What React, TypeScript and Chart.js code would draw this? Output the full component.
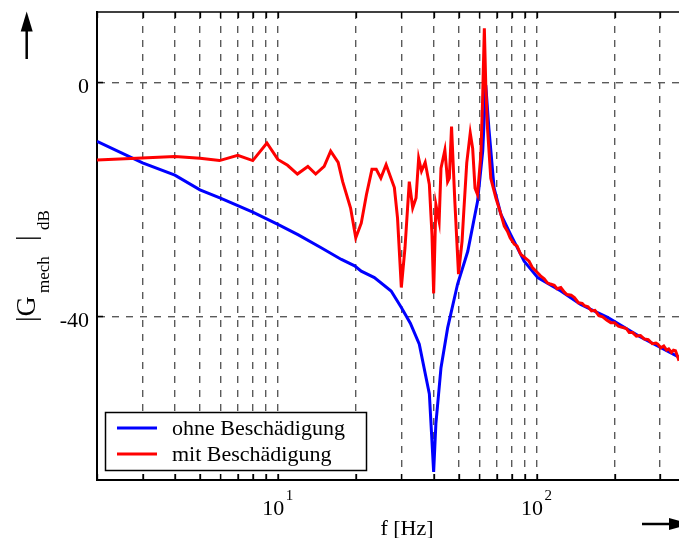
import { useEffect, useRef } from 'react';
import { Chart, registerables } from 'chart.js';

Chart.register(...registerables);

const seriesLabels = ['ohne Beschädigung', 'mit Beschädigung'];
const seriesColors = ['#0000ff', '#ff0000'];

const blueFreq = [2.0, 3.0, 4.0, 5.0, 6.0, 8.0, 10, 12, 14.7, 17.6, 19.8, 21, 23.6, 27.4, 30, 32.5, 35.2, 38.5, 40, 40.8, 42.7, 45.3, 49.5, 54.2, 59.1, 61.9, 63.6, 65.4, 68.5, 72.8, 79.3, 89.5, 101, 124, 148, 188, 253, 355];
const blueDb = [-10.1, -13.8, -15.9, -18.4, -19.8, -22.2, -24.3, -26.1, -28.3, -30.3, -31.4, -32.3, -33.4, -35.7, -38.5, -41.2, -44.8, -53.3, -66.6, -58.4, -48.8, -42.0, -34.5, -28.9, -20.4, -11.8, -0.5, -7.9, -18.1, -22.6, -26.0, -30.6, -33.4, -35.7, -38.0, -40.2, -43.6, -47.0];

const redFreq = [2.0, 2.84, 4.0, 5.0, 5.95, 7.0, 8.0, 9.07, 10, 10.9, 11.9, 13.06, 14.0, 15.1, 16.0, 17.1, 17.8, 19.1, 20.0, 21.0, 22.0, 23.1, 24.0, 25.0, 26.2, 28.2, 29.0, 30.0, 31.0, 32.2, 33.2, 34.2, 35.0, 35.9, 37.1, 38.5, 39.4, 40.0, 40.8, 42.0, 42.7, 44.2, 45.3, 46.0, 46.9, 48.3, 49.9, 51.5, 52.3, 53.7, 55.4, 56.6, 57.8, 59.1, 60.9, 61.8, 62.8, 63.6, 64.6, 66.5, 69.6, 72.8, 75, 77.2, 79, 82.0, 84, 86.7, 90, 93.5, 96.3, 100, 103.5, 107, 110, 113, 117, 120, 124, 128, 131, 136, 140, 145, 150, 153, 158, 163, 168, 174, 180, 187, 193.5, 200, 207, 214, 222, 228, 235, 243, 252, 261, 270, 280, 289, 294, 302, 310, 318, 324, 332, 338, 344, 350, 355];
const redDb = [-13.3, -13.0, -12.7, -13.0, -13.4, -12.5, -13.4, -10.4, -13.2, -14.2, -15.7, -14.4, -15.7, -14.4, -11.8, -13.7, -17.0, -21.5, -26.6, -24.1, -19.2, -14.9, -14.9, -16.4, -14.1, -18.0, -23.2, -35.1, -28.3, -17.0, -21.5, -19.8, -13.0, -15.2, -13.7, -17.5, -26.0, -36.1, -20.9, -23.8, -14.7, -11.6, -17.0, -16.4, -7.6, -20.4, -32.8, -27.2, -22.1, -13.8, -8.7, -11.3, -18.1, -19.2, -12.4, -3.3, 9.2, -0.5, -7.9, -16.4, -19.8, -22.6, -24.6, -25.5, -26.6, -27.7, -28.0, -29.4, -30.0, -30.6, -31.7, -32.4, -33.1, -33.6, -34.3, -34.5, -34.7, -35.3, -35.1, -35.9, -36.3, -36.4, -36.8, -37.7, -37.8, -38.2, -38.4, -39.1, -39.0, -39.9, -40.1, -40.7, -41.1, -41.1, -41.7, -41.9, -42.1, -42.8, -42.8, -43.4, -43.3, -43.9, -44.0, -44.7, -44.6, -44.8, -45.4, -45.1, -45.8, -45.6, -46.2, -45.8, -45.9, -46.8, -47.6];

const xGridFreqs = [2, 3, 4, 5, 6, 7, 8, 9, 10, 20, 30, 40, 50, 60, 70, 80, 90, 100, 200, 300];
const xLabelExponents = [1, 2];
const yTickValues = [-40, 0];
const yTickLabels = ['-40', '0'];
const xTitle = 'f [Hz]';
const yTitleParts = ['|G', 'mech', '|', 'dB'];

const X_MIN = 2;
const X_MAX = 355;
const Y_MIN = -68;
const Y_MAX = 12;

const SERIF = '"Liberation Serif", "Times New Roman", serif';

const decorPlugin = {
  id: 'decor',
  afterDraw(chart: any) {
    const { ctx, chartArea: a, scales } = chart;
    const xs = scales.x;
    const ys = scales.y;
    ctx.save();
    ctx.strokeStyle = '#000';
    ctx.fillStyle = '#000';

    // top border
    ctx.lineWidth = 1.5;
    ctx.beginPath();
    ctx.moveTo(a.left, a.top);
    ctx.lineTo(a.right, a.top);
    ctx.stroke();

    // inward ticks
    ctx.lineWidth = 1.3;
    ctx.beginPath();
    for (const f of xGridFreqs) {
      const px = Math.round(xs.getPixelForValue(f)) + 0.5;
      ctx.moveTo(px, a.bottom);
      ctx.lineTo(px, a.bottom - 6);
      ctx.moveTo(px, a.top);
      ctx.lineTo(px, a.top + 6);
    }
    for (const v of yTickValues) {
      const py = Math.round(ys.getPixelForValue(v)) + 0.5;
      ctx.moveTo(a.left, py);
      ctx.lineTo(a.left + 6, py);
    }
    ctx.stroke();

    // x tick labels 10^n
    ctx.textBaseline = 'alphabetic';
    ctx.textAlign = 'left';
    for (const e of xLabelExponents) {
      const px = xs.getPixelForValue(Math.pow(10, e));
      ctx.font = `22px ${SERIF}`;
      const wb = ctx.measureText('10').width;
      ctx.font = `15px ${SERIF}`;
      const ws = ctx.measureText(String(e)).width;
      const start = px - (wb + 1.5 + ws) / 2;
      ctx.font = `22px ${SERIF}`;
      ctx.fillText('10', start, a.bottom + 35);
      ctx.font = `15px ${SERIF}`;
      ctx.fillText(String(e), start + wb + 1.5, a.bottom + 20);
    }

    // y tick labels
    ctx.font = `22px ${SERIF}`;
    ctx.textAlign = 'right';
    yTickValues.forEach((v, i) => {
      const py = ys.getPixelForValue(v);
      ctx.fillText(yTickLabels[i], a.left - 8, py + 10.5);
    });

    // x title
    ctx.textAlign = 'center';
    ctx.font = `22px ${SERIF}`;
    ctx.fillText(xTitle, 407, 535);

    // y title (rotated, with subscripts)
    ctx.save();
    ctx.translate(35, 322);
    ctx.rotate(-Math.PI / 2);
    ctx.textAlign = 'left';
    ctx.font = `28px ${SERIF}`;
    ctx.fillText(yTitleParts[0], 0, 0);
    ctx.font = `17px ${SERIF}`;
    ctx.fillText(yTitleParts[1], 29, 14);
    ctx.font = `28px ${SERIF}`;
    ctx.fillText(yTitleParts[2], 81, 0);
    ctx.font = `17px ${SERIF}`;
    ctx.fillText(yTitleParts[3], 92, 14);
    ctx.restore();

    // up arrow
    ctx.lineWidth = 2.5;
    ctx.beginPath();
    ctx.moveTo(26.7, 59);
    ctx.lineTo(26.7, 26);
    ctx.stroke();
    ctx.beginPath();
    ctx.moveTo(26.7, 11.5);
    ctx.lineTo(20.7, 31.5);
    ctx.lineTo(32.7, 31.5);
    ctx.closePath();
    ctx.fill();

    // right arrow
    ctx.beginPath();
    ctx.moveTo(642, 524);
    ctx.lineTo(672, 524);
    ctx.stroke();
    ctx.beginPath();
    ctx.moveTo(690, 524);
    ctx.lineTo(669, 518);
    ctx.lineTo(669, 530);
    ctx.closePath();
    ctx.fill();

    // legend
    const lx = 105.5, ly = 412.5, lw = 261, lh = 58;
    ctx.fillStyle = '#fff';
    ctx.fillRect(lx, ly, lw, lh);
    ctx.strokeStyle = '#000';
    ctx.lineWidth = 1.5;
    ctx.strokeRect(lx, ly, lw, lh);
    const rows = [428, 454];
    chart.data.datasets.forEach((ds: any, i: number) => {
      ctx.strokeStyle = ds.borderColor;
      ctx.lineWidth = 3;
      ctx.beginPath();
      ctx.moveTo(117, rows[i]);
      ctx.lineTo(157, rows[i]);
      ctx.stroke();
      ctx.fillStyle = '#000';
      ctx.textAlign = 'left';
      ctx.font = `22px ${SERIF}`;
      ctx.fillText(ds.label, 172, rows[i] + 7);
    });

    ctx.restore();
  },
};

export default function App() {
  const canvasRef = useRef<HTMLCanvasElement | null>(null);

  useEffect(() => {
    const canvas = canvasRef.current;
    if (!canvas) return;
    const bluePts = blueFreq.map((f, i) => ({ x: f, y: blueDb[i] }));
    const redPts = redFreq.map((f, i) => ({ x: f, y: redDb[i] }));
    const gridStyle = { color: '#5a5a5a', lineWidth: 1.4, drawTicks: false };
    const chart = new Chart(canvas, {
      type: 'line',
      data: {
        datasets: [
          { label: seriesLabels[0], data: bluePts, borderColor: seriesColors[0], borderWidth: 3, pointRadius: 0, tension: 0, order: 1 },
          { label: seriesLabels[1], data: redPts, borderColor: seriesColors[1], borderWidth: 3, pointRadius: 0, tension: 0, order: 0 },
        ],
      },
      options: {
        animation: false,
        responsive: false,
        maintainAspectRatio: false,
        layout: { padding: { top: 12, right: 0, left: 0, bottom: 0 } },
        plugins: { legend: { display: false }, tooltip: { enabled: false } },
        scales: {
          x: {
            type: 'logarithmic',
            min: X_MIN,
            max: X_MAX,
            afterBuildTicks: (s: any) => { s.ticks = xGridFreqs.map((v) => ({ value: v })); },
            afterFit: (s: any) => { s.height = 58; },
            ticks: { display: false },
            grid: gridStyle,
            border: { display: true, color: '#000', width: 2, dash: [7, 7] },
          },
          y: {
            type: 'linear',
            min: Y_MIN,
            max: Y_MAX,
            afterBuildTicks: (s: any) => { s.ticks = yTickValues.map((v) => ({ value: v })); },
            afterFit: (s: any) => { s.width = 97; },
            ticks: { display: false },
            grid: gridStyle,
            border: { display: true, color: '#000', width: 2, dash: [7, 7] },
          },
        },
      } as any,
      plugins: [decorPlugin],
    });
    return () => chart.destroy();
  }, []);

  return (
    <div style={{ position: 'fixed', left: 0, top: 0, width: 679, height: 538, background: '#fff', overflow: 'hidden' }}>
      <canvas ref={canvasRef} width={679} height={538} style={{ display: 'block' }} />
    </div>
  );
}
